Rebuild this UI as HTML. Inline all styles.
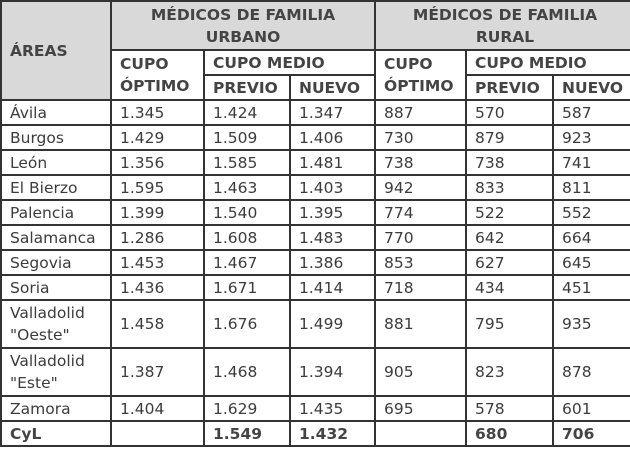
<!DOCTYPE html>
<html><head><style>
html,body{margin:0;padding:0;background:#fff;width:630px;height:463px;overflow:hidden}
table{position:absolute;left:0;top:0;width:634px;border-collapse:collapse;table-layout:fixed;font-family:"DejaVu Sans","Liberation Sans",sans-serif;font-size:15.5px;color:#3c3c3c}
td{border:2px solid #333;padding:0 0 0 8px;white-space:nowrap;line-height:22px;vertical-align:middle;overflow:hidden}
.h{font-weight:bold;color:#444}
.g{background:#d9d9d9}
.c{text-align:center;padding:0}
tr{height:25px}
</style></head><body>
<table>
<colgroup><col style="width:110px"><col style="width:93px"><col style="width:86px"><col style="width:85px"><col style="width:91px"><col style="width:87px"><col style="width:82px"></colgroup>
<tr style="height:49px"><td class="h g" rowspan="3">ÁREAS</td><td class="h g c" colspan="3">MÉDICOS DE FAMILIA<br>URBANO</td><td class="h g c" colspan="3">MÉDICOS DE FAMILIA<br>RURAL</td></tr>
<tr><td class="h" rowspan="2">CUPO<br>ÓPTIMO</td><td class="h" colspan="2">CUPO MEDIO</td><td class="h" rowspan="2">CUPO<br>ÓPTIMO</td><td class="h" colspan="2">CUPO MEDIO</td></tr>
<tr><td class="h">PREVIO</td><td class="h">NUEVO</td><td class="h">PREVIO</td><td class="h">NUEVO</td></tr>
<tr><td>Ávila</td><td>1.345</td><td>1.424</td><td>1.347</td><td>887</td><td>570</td><td>587</td></tr>
<tr><td>Burgos</td><td>1.429</td><td>1.509</td><td>1.406</td><td>730</td><td>879</td><td>923</td></tr>
<tr><td>León</td><td>1.356</td><td>1.585</td><td>1.481</td><td>738</td><td>738</td><td>741</td></tr>
<tr><td>El Bierzo</td><td>1.595</td><td>1.463</td><td>1.403</td><td>942</td><td>833</td><td>811</td></tr>
<tr><td>Palencia</td><td>1.399</td><td>1.540</td><td>1.395</td><td>774</td><td>522</td><td>552</td></tr>
<tr><td>Salamanca</td><td>1.286</td><td>1.608</td><td>1.483</td><td>770</td><td>642</td><td>664</td></tr>
<tr><td>Segovia</td><td>1.453</td><td>1.467</td><td>1.386</td><td>853</td><td>627</td><td>645</td></tr>
<tr><td>Soria</td><td>1.436</td><td>1.671</td><td>1.414</td><td>718</td><td>434</td><td>451</td></tr>
<tr style="height:48px"><td>Valladolid<br>"Oeste"</td><td>1.458</td><td>1.676</td><td>1.499</td><td>881</td><td>795</td><td>935</td></tr>
<tr style="height:48px"><td>Valladolid<br>"Este"</td><td>1.387</td><td>1.468</td><td>1.394</td><td>905</td><td>823</td><td>878</td></tr>
<tr><td>Zamora</td><td>1.404</td><td>1.629</td><td>1.435</td><td>695</td><td>578</td><td>601</td></tr>
<tr><td class="h">CyL</td><td></td><td class="h">1.549</td><td class="h">1.432</td><td></td><td class="h">680</td><td class="h">706</td></tr>
</table>
</body></html>
